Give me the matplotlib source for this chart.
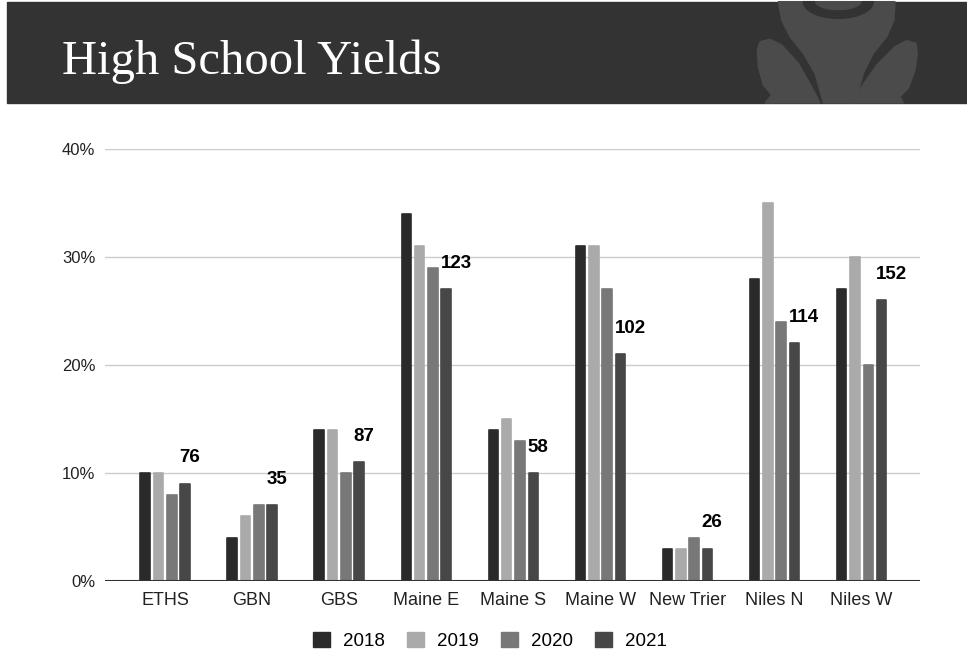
import numpy as np
import matplotlib.pyplot as plt
from matplotlib.patches import Rectangle, Polygon, Patch

schools = ['ETHS', 'GBN', 'GBS', 'Maine E', 'Maine S', 'Maine W', 'New Trier', 'Niles N', 'Niles W']
years = ['2018', '2019', '2020', '2021']
y2018 = [10, 4, 14, 34, 14, 31, 3, 28, 27]
y2019 = [10, 6, 14, 31, 15, 31, 3, 35, 30]
y2020 = [8, 7, 10, 29, 13, 27, 4, 24, 20]
y2021 = [9, 7, 11, 27, 10, 21, 3, 22, 26]
counts = [76, 35, 87, 123, 58, 102, 26, 114, 152]

colors = ['#2a2a2a', '#aaaaaa', '#787878', '#474747']
series = [y2018, y2019, y2020, y2021]

plt.rcParams['font.family'] = ['Liberation Sans', 'DejaVu Sans']

fig = plt.figure(figsize=(9.67, 6.54), dpi=100)
fig.patch.set_facecolor('white')

# header band drawn in pixel coords
hdr = fig.add_axes([0, 0, 1, 1])
hdr.set_xlim(0, 967)
hdr.set_ylim(654, 0)
hdr.axis('off')
hdr.add_patch(Rectangle((7, 2), 960, 101, color='#333333', zorder=1))

def zp(pts):
    return [(740 + x / 3, y / 3) for x, y in pts]

logo = '#4b4b4b'
body = [(115, 5), (465, 5), (462, 60), (440, 110), (400, 160), (370, 220), (345, 309),
        (250, 309), (225, 220), (190, 160), (150, 110), (125, 60)]
leaf_l = [(60, 125), (90, 118), (125, 135), (175, 190), (215, 260), (240, 309), (75, 309),
          (95, 285), (70, 255), (55, 200), (52, 150)]
leaf_r = [(528, 130), (500, 122), (465, 140), (410, 195), (365, 260), (340, 309), (490, 309),
          (480, 290), (505, 265), (525, 210), (532, 160)]
for shape in (body, leaf_l, leaf_r):
    hdr.add_patch(Polygon(zp(shape), color=logo, zorder=2))
t = np.linspace(0, np.pi, 40)
arc_out = [(295 + 105 * np.cos(a), 5 + 50 * np.sin(a)) for a in t]
arc_in = [(295 + 72 * np.cos(a), 5 + 28 * np.sin(a)) for a in t[::-1]]
hdr.add_patch(Polygon(zp(arc_out + arc_in), color='#333333', zorder=3))
hdr.text(62, 74, 'High School Yields', family='Liberation Serif', fontsize=35,
         color='white', va='baseline', ha='left', zorder=4)

ax = fig.add_axes([105 / 967, 73 / 654, 815 / 967, 432 / 654])
ax.set_facecolor('none')

x = np.arange(len(schools))
pitch = 0.153
width = 0.11
for i, (vals, c) in enumerate(zip(series, colors)):
    ax.bar(x + (i - 1.5) * pitch, vals, width, color=c, edgecolor=c, linewidth=1.2,
           joinstyle='round', label=years[i], zorder=3)

for xi, v, n in zip(x, y2021, counts):
    ax.text(xi + 1.5 * pitch - width / 2 - 0.01, v + 2.4, str(n), ha='left', va='center',
            fontsize=13.5, fontweight='bold', color='black', zorder=4)

ax.set_ylim(0, 40)
ax.set_xlim(-0.69, 8.67)
ax.set_yticks([0, 10, 20, 30, 40])
ax.set_yticklabels(['0%', '10%', '20%', '30%', '40%'])
ax.set_xticks(x)
ax.set_xticklabels(schools)
ax.tick_params(axis='both', length=0, colors='#222222')
ax.tick_params(axis='y', pad=7, labelsize=12)
ax.tick_params(axis='x', pad=8, labelsize=13)
ax.grid(axis='y', color='#cccccc', linewidth=1, zorder=0)
for s in ax.spines.values():
    s.set_visible(False)
ax.axhline(0, color='#333333', linewidth=1.5, zorder=5)

handles = [Patch(facecolor=c, edgecolor=c) for c in colors]
fig.legend(handles, years, loc='center', bbox_to_anchor=(490 / 967, 1 - 641 / 654), ncol=4,
           frameon=False, fontsize=13.5, handlelength=0.9, handleheight=0.9,
           handletextpad=0.7, columnspacing=1.17)

fig.savefig('out.png', dpi=100)
